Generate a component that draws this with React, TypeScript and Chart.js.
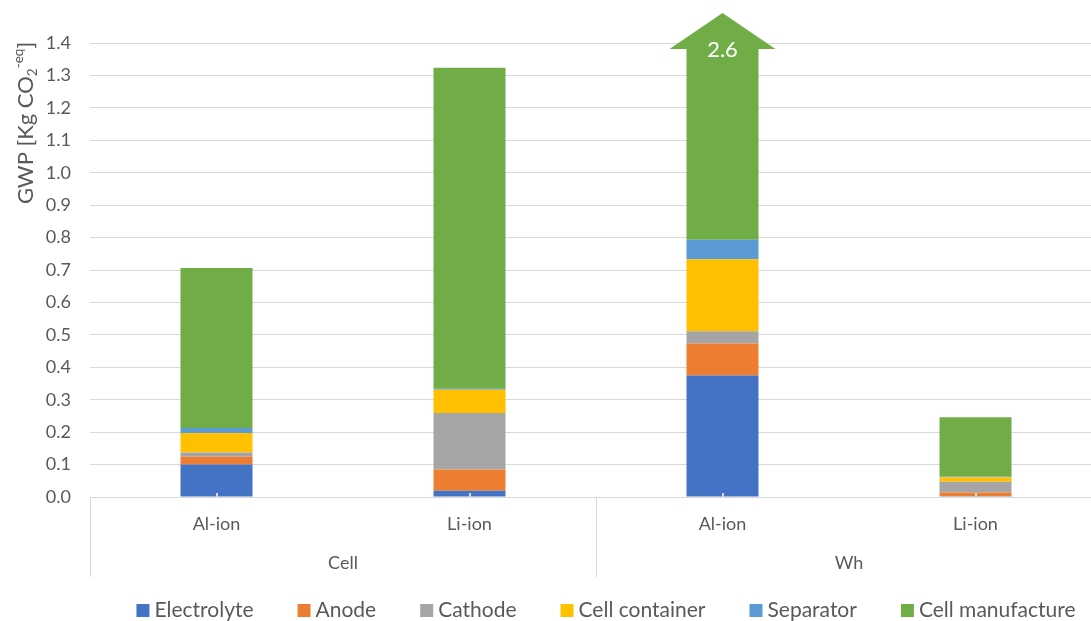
import React, { useEffect, useRef } from "react";
import { Chart, registerables } from "chart.js";

Chart.register(...registerables);

// ---- data ----
const categories = ["Al-ion", "Li-ion", "Al-ion", "Li-ion"];
const groups = ["Cell", "Wh"];
const groupSizes = [2, 2];
const seriesNames = ["Electrolyte", "Anode", "Cathode", "Cell container", "Separator", "Cell manufacture"];
const electrolyte = [0.1, 0.019, 0.375, 0.002];
const anode = [0.024, 0.066, 0.098, 0.012];
const cathode = [0.013, 0.174, 0.038, 0.033];
const cellContainer = [0.06, 0.072, 0.222, 0.014];
const separator = [0.016, 0.003, 0.06, 0.002];
const cellManufacture = [0.493, 0.99, 1.807, 0.183];
const yMin = 0;
const yMax = 1.4;
const yStep = 0.1;
const yTitleParts = [
  { text: "GWP [Kg CO", kind: "normal" },
  { text: "2", kind: "sub" },
  { text: "-eq", kind: "sup" },
  { text: "]", kind: "normal" },
];

const seriesValues = [electrolyte, anode, cathode, cellContainer, separator, cellManufacture];
const colors = ["#4472C4", "#ED7D31", "#A5A5A5", "#FFC000", "#5B9BD5", "#70AD47"];

const FONT = "Lato, 'Open Sans', sans-serif";
const TEXT = "#595959";
const GRID = "#D9D9D9";

const decorPlugin = {
  id: "decor",
  afterDatasetsDraw(chart: any) {
    const { ctx, chartArea, scales } = chart;
    const x = scales.x;
    ctx.save();
    // small center tick marks
    ctx.strokeStyle = GRID;
    ctx.lineWidth = 2;
    for (let i = 0; i < categories.length; i++) {
      const px = Math.round(x.getPixelForValue(i));
      ctx.beginPath();
      ctx.moveTo(px, chartArea.bottom);
      ctx.lineTo(px, chartArea.bottom - 4);
      ctx.stroke();
    }
    // overflow arrows
    const lastMeta = chart.getDatasetMeta(seriesValues.length - 1);
    for (let i = 0; i < categories.length; i++) {
      let total = 0;
      for (const s of seriesValues) total += s[i];
      if (total <= yMax) continue;
      const bar: any = lastMeta.data[i];
      const cx = bar.x;
      const half = bar.width / 2 + 17;
      const baseY = chartArea.top + 6;
      const tipY = chartArea.top - 30;
      ctx.fillStyle = colors[colors.length - 1];
      ctx.beginPath();
      ctx.moveTo(cx - half, baseY);
      ctx.lineTo(cx, tipY);
      ctx.lineTo(cx + half, baseY);
      ctx.closePath();
      ctx.fill();
      ctx.fillStyle = "#FFFFFF";
      ctx.font = `22px ${FONT}`;
      ctx.textAlign = "center";
      ctx.textBaseline = "middle";
      ctx.fillText(total.toFixed(1), cx, chartArea.top + 6.5);
    }
    ctx.restore();
  },
  afterDraw(chart: any) {
    const { ctx, chartArea, scales } = chart;
    const x = scales.x;
    ctx.save();
    // group separators and labels
    const bounds: number[] = [chartArea.left];
    let idx = 0;
    groupSizes.forEach((n, g) => {
      idx += n;
      if (g < groupSizes.length - 1) {
        bounds.push((x.getPixelForValue(idx - 1) + x.getPixelForValue(idx)) / 2);
      }
    });
    bounds.push(chartArea.right);
    ctx.strokeStyle = GRID;
    ctx.lineWidth = 1;
    for (const b of bounds) {
      const bx = Math.round(b) + 0.5;
      ctx.beginPath();
      ctx.moveTo(bx, chartArea.bottom);
      ctx.lineTo(bx, chartArea.bottom + 80);
      ctx.stroke();
    }
    ctx.fillStyle = TEXT;
    ctx.font = `18px ${FONT}`;
    ctx.textAlign = "center";
    ctx.textBaseline = "middle";
    groups.forEach((g, i) => {
      ctx.fillText(g, (bounds[i] + bounds[i + 1]) / 2, chartArea.bottom + 66);
    });

    // y axis title (rotated, with sub/superscript)
    const mainSize = 22;
    const smallSize = 13.5;
    const widths = yTitleParts.map((p) => {
      ctx.font = `${p.kind === "normal" ? mainSize : smallSize}px ${FONT}`;
      return ctx.measureText(p.text).width;
    });
    const total = widths.reduce((a, b) => a + b, 0);
    ctx.translate(33, 123);
    ctx.rotate(-Math.PI / 2);
    ctx.textAlign = "left";
    ctx.textBaseline = "alphabetic";
    let cur = -total / 2;
    yTitleParts.forEach((p, i) => {
      ctx.font = `${p.kind === "normal" ? mainSize : smallSize}px ${FONT}`;
      const dy = p.kind === "sub" ? 4 : p.kind === "sup" ? -10 : 0;
      ctx.fillText(p.text, cur, dy);
      cur += widths[i];
    });
    ctx.setTransform(1, 0, 0, 1, 0, 0);

    // legend
    const legendSize = 21;
    const box = 13;
    const gap = 5;
    const spacing = 44;
    ctx.font = `${legendSize}px ${FONT}`;
    const tw = seriesNames.map((n) => ctx.measureText(n).width);
    const totalW = tw.reduce((a, b) => a + b, 0) + seriesNames.length * (box + gap) + (seriesNames.length - 1) * spacing;
    let lx = 606 - totalW / 2;
    const ly = 610.5;
    ctx.textAlign = "left";
    ctx.textBaseline = "middle";
    seriesNames.forEach((n, i) => {
      ctx.fillStyle = colors[i];
      ctx.fillRect(lx, ly - box / 2, box, box);
      lx += box + gap;
      ctx.fillStyle = TEXT;
      ctx.fillText(n, lx, ly);
      lx += tw[i] + spacing;
    });
    ctx.restore();
  },
};

export default function App() {
  const ref = useRef<HTMLCanvasElement | null>(null);
  useEffect(() => {
    if (!ref.current) return;
    Chart.defaults.font.family = FONT;
    const chart = new Chart(ref.current, {
      type: "bar",
      data: {
        labels: categories,
        datasets: seriesNames.map((name, i) => ({
          label: name,
          data: seriesValues[i],
          backgroundColor: colors[i],
          borderWidth: 0,
          categoryPercentage: 1,
          barPercentage: 0.2846,
          clip: 0,
        })),
      },
      options: {
        animation: false,
        responsive: false,
        maintainAspectRatio: false,
        layout: { padding: { top: 43, left: 0, right: 8, bottom: 0 } },
        plugins: { legend: { display: false }, tooltip: { enabled: false }, title: { display: false } },
        scales: {
          x: {
            stacked: true,
            grid: { display: false, drawTicks: false },
            border: { display: true, color: GRID, width: 1 },
            ticks: { color: TEXT, font: { size: 18, family: FONT }, padding: 16, maxRotation: 0, autoSkip: false },
            afterFit: (s: any) => {
              s.height = 124;
            },
          },
          y: {
            stacked: true,
            min: yMin,
            max: yMax,
            grid: { color: GRID, lineWidth: 1, drawTicks: false },
            border: { display: false },
            ticks: {
              stepSize: yStep,
              color: TEXT,
              font: { size: 18, family: FONT },
              padding: 19,
              callback: (v: any) => Number(v).toFixed(1),
            },
            afterFit: (s: any) => {
              s.width = 90;
            },
          },
        },
      },
      plugins: [decorPlugin],
    });
    return () => chart.destroy();
  }, []);
  return (
    <div style={{ position: "fixed", left: 0, top: 0, width: 1091, height: 621, overflow: "hidden", background: "#fff" }}>
      <canvas ref={ref} width={1110} height={621} style={{ display: "block", width: 1110, height: 621 }} />
    </div>
  );
}
